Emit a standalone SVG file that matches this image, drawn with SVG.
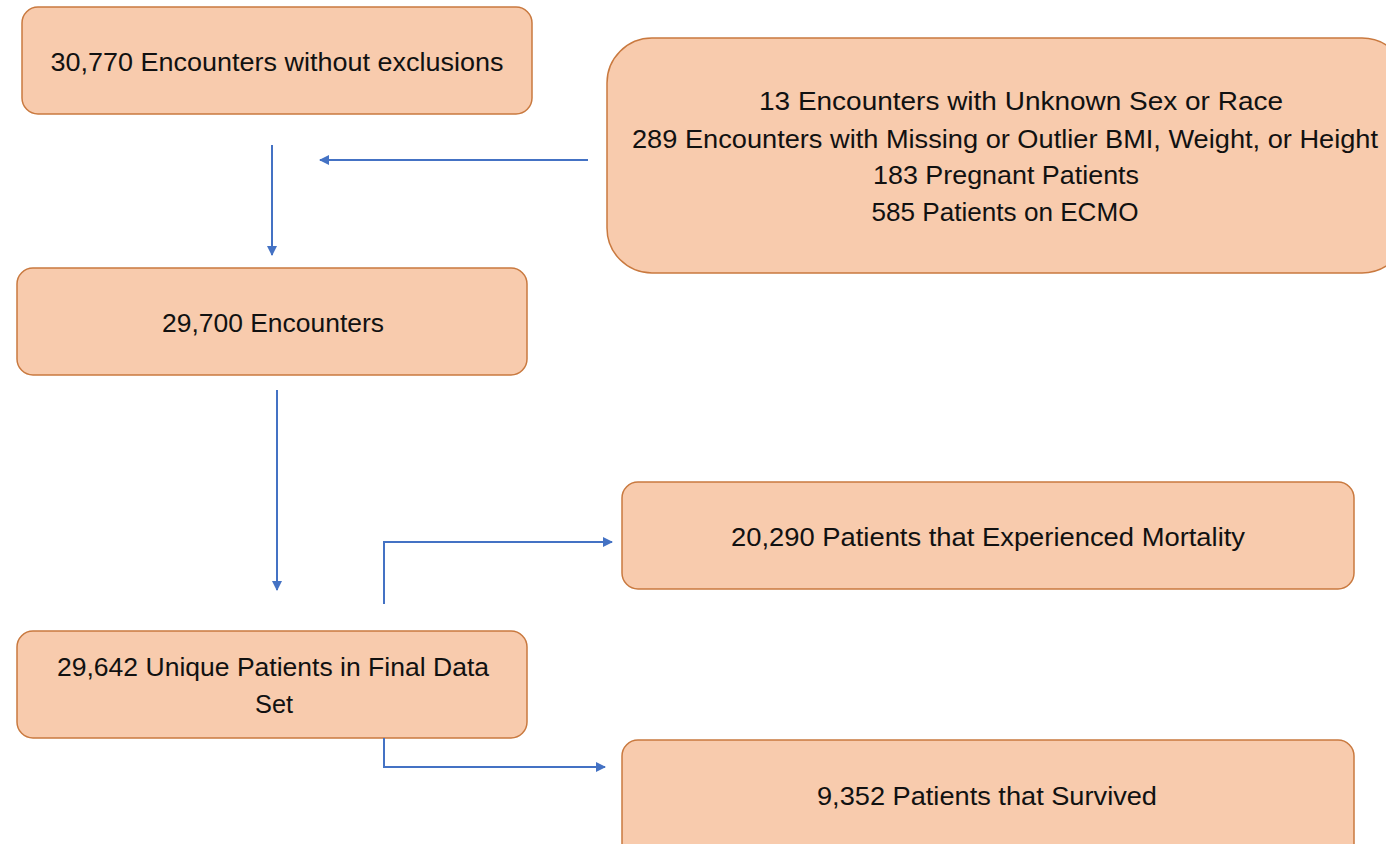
<svg xmlns="http://www.w3.org/2000/svg" width="1386" height="844" viewBox="0 0 1386 844">
<defs>
<style>
.box{fill:#F8CBAD;stroke:#C9793F;stroke-width:1.5}
.t{font-family:"Liberation Sans",Arial,sans-serif;font-size:25px;fill:#111;text-anchor:middle}
.c{fill:none;stroke:#4472C4;stroke-width:2}
</style>
<marker id="ah" viewBox="0 0 10 10" refX="9" refY="5" markerWidth="5" markerHeight="5" orient="auto" markerUnits="strokeWidth">
<path d="M0,0 L10,5 L0,10 z" fill="#4472C4"/>
</marker>
</defs>
<rect width="1386" height="844" fill="#fff"/>
<g id="n1"><rect class="box" x="22" y="7" width="510" height="107" rx="16"/>
<text class="t" x="277" y="71" textLength="453" lengthAdjust="spacingAndGlyphs">30,770 Encounters without exclusions</text></g>
<g id="n2"><rect class="box" x="607" y="38" width="800" height="235" rx="45"/>
<text class="t" x="1021" y="110" textLength="524" lengthAdjust="spacingAndGlyphs">13 Encounters with Unknown Sex or Race</text>
<text class="t" x="1005" y="148" textLength="746" lengthAdjust="spacingAndGlyphs">289 Encounters with Missing or Outlier BMI, Weight, or Height</text>
<text class="t" x="1006" y="184" textLength="266" lengthAdjust="spacingAndGlyphs">183 Pregnant Patients</text>
<text class="t" x="1005" y="221" textLength="267" lengthAdjust="spacingAndGlyphs">585 Patients on ECMO</text></g>
<g id="n3"><rect class="box" x="17" y="268" width="510" height="107" rx="16"/>
<text class="t" x="273" y="332" textLength="222" lengthAdjust="spacingAndGlyphs">29,700 Encounters</text></g>
<g id="n4"><rect class="box" x="17" y="631" width="510" height="107" rx="16"/>
<text class="t" x="273" y="676" textLength="432" lengthAdjust="spacingAndGlyphs">29,642 Unique Patients in Final Data</text>
<text class="t" x="274" y="713" textLength="38" lengthAdjust="spacingAndGlyphs">Set</text></g>
<g id="n5"><rect class="box" x="622" y="482" width="732" height="107" rx="16"/>
<text class="t" x="988" y="546" textLength="514" lengthAdjust="spacingAndGlyphs">20,290 Patients that Experienced Mortality</text></g>
<g id="n6"><rect class="box" x="622" y="740" width="732" height="120" rx="16"/>
<text class="t" x="987" y="805" textLength="340" lengthAdjust="spacingAndGlyphs">9,352 Patients that Survived</text></g>
<g id="connectors">
<path class="c" d="M272,145 V255" marker-end="url(#ah)"/>
<path class="c" d="M588,160 H320" marker-end="url(#ah)"/>
<path class="c" d="M277,390 V590" marker-end="url(#ah)"/>
<path class="c" d="M384,604 V542 H612" marker-end="url(#ah)"/>
<path class="c" d="M384,738 V767 H605" marker-end="url(#ah)"/>
</g>
</svg>
